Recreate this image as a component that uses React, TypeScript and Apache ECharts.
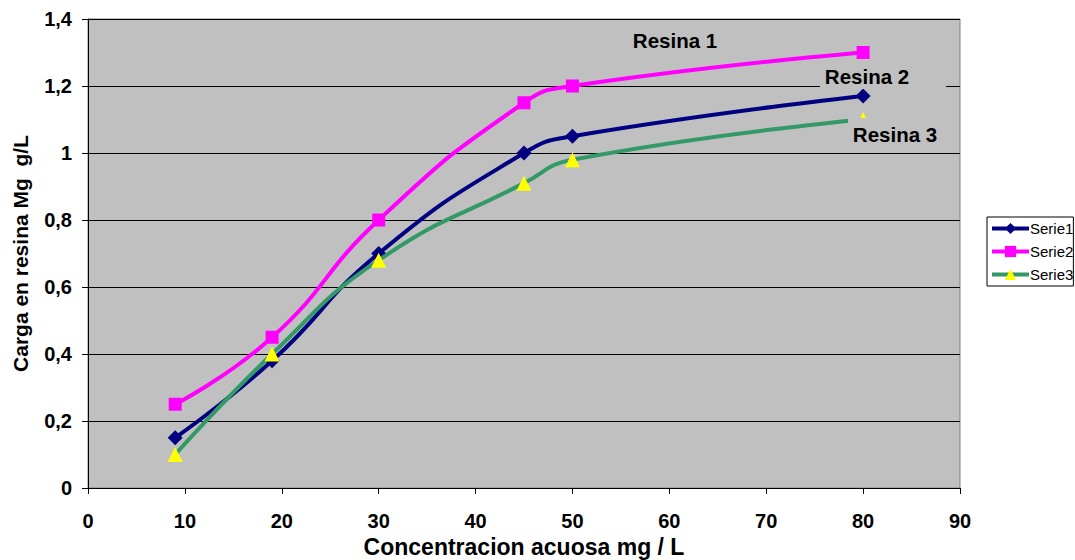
import React, { useEffect, useRef } from "react";
import * as echarts from "echarts";

const xValues = [9, 19, 30, 45, 50, 80];
const serie1 = [0.15, 0.38, 0.70, 1.00, 1.05, 1.17];
const serie2 = [0.25, 0.45, 0.80, 1.15, 1.20, 1.30];
const serie3 = [0.10, 0.40, 0.68, 0.91, 0.98, 1.10];
const seriesNames = ["Serie1", "Serie2", "Serie3"];
const labels = ["Resina 1", "Resina 2", "Resina 3"];

const FONT = "Arial, 'Liberation Sans', sans-serif";

export default function App() {
  const ref = useRef<HTMLDivElement>(null);
  useEffect(() => {
    if (!ref.current) return;
    const chart = echarts.init(ref.current, undefined, { renderer: "svg" });
    const pts = (ys: number[]) => xValues.map((x, i) => [x, ys[i]]);
    const labelFont = `bold 20.5px ${FONT}`;
    chart.setOption({
      animation: false,
      backgroundColor: "#ffffff",
      grid: {
        left: 88,
        top: 19,
        width: 872,
        height: 469,
        outerBoundsMode: "none",
        containLabel: false,
        show: true,
        backgroundColor: "#c0c0c0",
        borderColor: "#808080",
        borderWidth: 1,
      },
      legend: {
        orient: "vertical",
        left: 987,
        top: 217,
        padding: [4, 0, 4, 3],
        itemWidth: 37,
        itemHeight: 14,
        itemGap: 8,
        borderColor: "#000",
        borderWidth: 1,
        data: seriesNames,
        lineStyle: { width: 4 },
        textStyle: { fontFamily: FONT, fontSize: 15, color: "#000", padding: [0, 0, 0, -4] },
      },
      xAxis: {
        type: "value",
        min: 0,
        max: 90,
        interval: 10,
        name: "Concentracion acuosa mg / L",
        nameLocation: "middle",
        nameGap: 46,
        nameTextStyle: { fontFamily: FONT, fontSize: 23, fontWeight: "bold", color: "#000" },
        axisLine: { show: true, lineStyle: { color: "#000", width: 1 } },
        axisTick: { show: true, length: 6, lineStyle: { color: "#000" } },
        axisLabel: { fontFamily: FONT, fontSize: 20, fontWeight: "bold", color: "#000", margin: 23 },
        splitLine: { show: false },
      },
      yAxis: {
        type: "value",
        min: 0,
        max: 1.4,
        interval: 0.2,
        name: "Carga en resina Mg  g/L",
        nameLocation: "middle",
        nameGap: 57,
        nameTextStyle: { fontFamily: FONT, fontSize: 21, fontWeight: "bold", color: "#000" },
        axisLine: { show: true, lineStyle: { color: "#000", width: 1 } },
        axisTick: { show: true, length: 6, lineStyle: { color: "#000" } },
        axisLabel: {
          fontFamily: FONT,
          fontSize: 20,
          fontWeight: "bold",
          color: "#000",
          margin: 16,
          formatter: (v: number) => String(+v.toFixed(1)).replace(".", ","),
        },
        splitLine: { show: true, lineStyle: { color: "#000", width: 1 } },
      },
      series: [
        {
          name: seriesNames[0],
          type: "line",
          smooth: 0.5,
          data: pts(serie1),
          symbol: "diamond",
          symbolSize: 15,
          lineStyle: { color: "#000080", width: 4 },
          itemStyle: { color: "#000080" },
          z: 3,
        },
        {
          name: seriesNames[1],
          type: "line",
          smooth: 0.5,
          data: pts(serie2),
          symbol: "rect",
          symbolSize: 13,
          lineStyle: { color: "#ff00ff", width: 4 },
          itemStyle: { color: "#ff00ff" },
          z: 2,
        },
        {
          name: seriesNames[2],
          type: "line",
          smooth: 0.5,
          data: pts(serie3),
          symbol: "triangle",
          symbolSize: 15,
          lineStyle: { color: "#339966", width: 4 },
          itemStyle: { color: "#ffff00" },
          z: 4,
        },
      ],
      graphic: [
        {
          type: "text",
          z: 100,
          x: 675,
          y: 40,
          style: {
            text: labels[0],
            font: labelFont,
            fill: "#000",
            align: "center",
            verticalAlign: "middle",
          },
        },
        {
          type: "rect",
          z: 99,
          shape: { x: 820, y: 63, width: 126, height: 26 },
          style: { fill: "#c0c0c0" },
        },
        {
          type: "text",
          z: 100,
          x: 867,
          y: 76,
          style: {
            text: labels[1],
            font: labelFont,
            fill: "#000",
            align: "center",
            verticalAlign: "middle",
          },
        },
        {
          type: "rect",
          z: 99,
          shape: { x: 848, y: 118, width: 98, height: 30 },
          style: { fill: "#c0c0c0" },
        },
        {
          type: "text",
          z: 100,
          x: 895,
          y: 134,
          style: {
            text: labels[2],
            font: labelFont,
            fill: "#000",
            align: "center",
            verticalAlign: "middle",
          },
        },
      ],
    });
    return () => chart.dispose();
  }, []);
  return (
    <div
      ref={ref}
      style={{ position: "fixed", left: 0, top: 0, width: 1075, height: 560 }}
    />
  );
}
